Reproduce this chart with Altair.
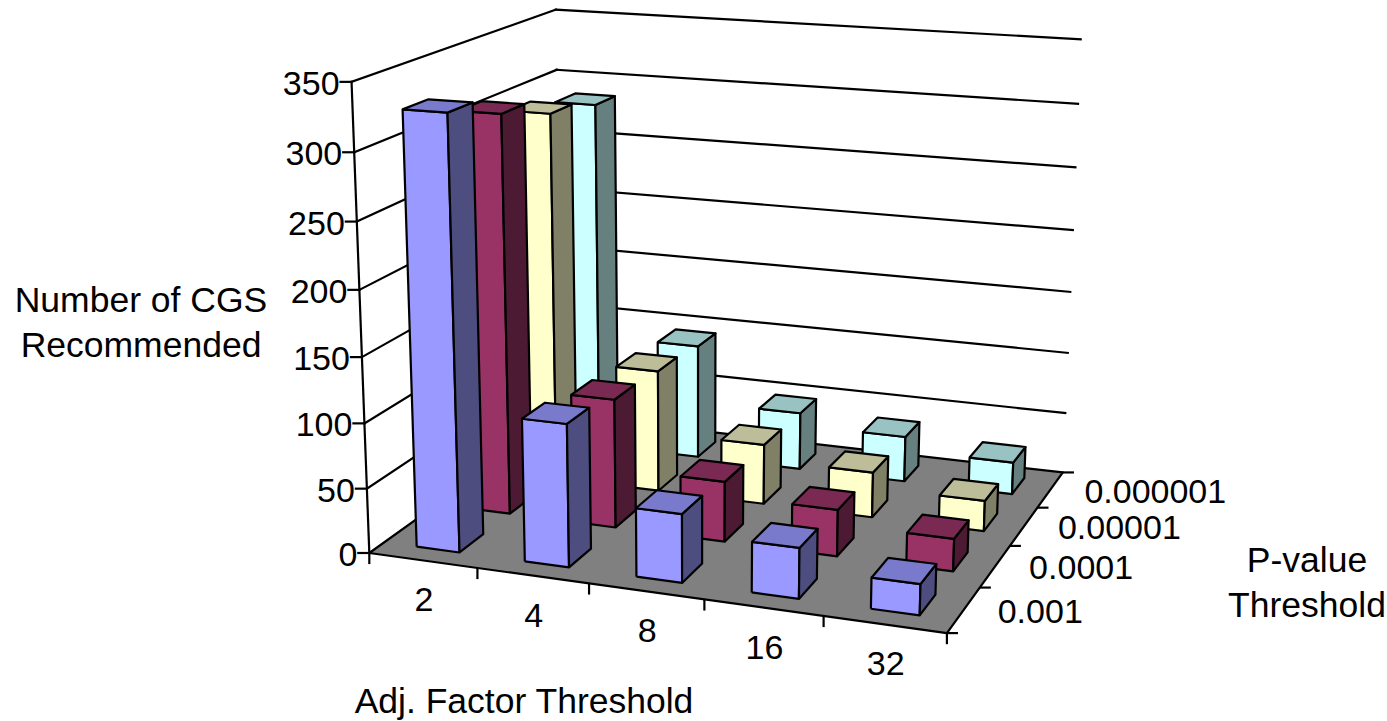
import altair as alt
import numpy as np
import pandas as pd

W, H = 1387, 721

# Chart values: one list per p-value series, ordered along the factor axis
adj_factors = ["2", "4", "8", "16", "32"]
p_values = ["0.001", "0.0001", "0.00001", "0.000001"]
series_0001 = [328, 109, 52, 38, 23]
series_00001 = [311, 101, 47, 36, 25]
series_000001 = [295, 98, 48, 36, 24]
series_0000001 = [286, 94, 47, 37, 26]
value_ticks = [0, 50, 100, 150, 200, 250, 300, 350]

series = [series_0001, series_00001, series_000001, series_0000001]
front_colors = ["#9999FF", "#993366", "#FFFFCC", "#CCFFFF"]
side_colors = ["#4D4D80", "#4D1A33", "#808066", "#668080"]
top_colors = ["#7A7ACC", "#7A2952", "#BDBD99", "#99C2C2"]

# Camera: a projective map fitted from (factor, depth, value) to the page
camera_fit = [
    ((0, 0, 0), (370, 552)), ((1, 0, 0), (476, 569)), ((2, 0, 0), (590, 585)),
    ((3, 0, 0), (704, 600)), ((4, 0, 0), (824, 617)), ((5, 0, 0), (948, 632)),
    ((5, 1, 0), (978, 587)), ((5, 2, 0), (1009, 546)), ((5, 3, 0), (1037, 508)),
    ((5, 4, 0), (1063, 470)),
    ((0, 0, 350), (351.5, 82)), ((0, 0, 300), (354.3, 152)), ((0, 0, 250), (357, 221)),
    ((0, 0, 100), (364.5, 423)), ((0, 0, 50), (367, 488)),
    ((0, 4, 350), (556, 10)), ((0, 4, 300), (556, 70)),
    ((5, 4, 350), (1080, 40)), ((5, 4, 300), (1078, 102)), ((5, 4, 250), (1076, 168)),
    ((5, 4, 200), (1073, 230)), ((5, 4, 150), (1071, 293)), ((5, 4, 100), (1068, 353)),
    ((5, 4, 50), (1066, 414)),
]


def fit_camera(pairs):
    weights = [1.0] * len(pairs)
    cam = None
    for _ in range(6):
        rows = []
        for ((u, v, w), (x, y)), g in zip(pairs, weights):
            w = w / 50
            rows.append([g * c for c in (u, v, w, 1, 0, 0, 0, 0, -x * u, -x * v, -x * w, -x)])
            rows.append([g * c for c in (0, 0, 0, 0, u, v, w, 1, -y * u, -y * v, -y * w, -y)])
        cam = np.linalg.svd(np.array(rows, dtype=float))[2][-1].reshape(3, 4)
        weights = [1.0 / abs(cam[2] @ np.array([u, v, w / 50, 1.0])) for (u, v, w), _ in pairs]
        weights = [g / max(weights) for g in weights]
    return cam


CAMERA = fit_camera(camera_fit)


def project(u, v, w):
    p = CAMERA @ np.array([u, v, w / 50, 1.0])
    return float(p[0] / p[2]), float(p[1] / p[2])


polys = []
lines = []
tick_labels = []
title_labels = []


def add_poly(corners, fill):
    pid = len(polys) and polys[-1]["pid"] + 1
    ring = list(corners) + [corners[0]]
    for k, c in enumerate(ring):
        x, y = project(*c)
        polys.append({"pid": pid, "k": k, "px": x, "py": y, "fill": fill})


def add_line(a, b, offset=(0, 0)):
    lid = len(lines) and lines[-1]["lid"] + 1
    for k, c in enumerate((a, b)):
        x, y = project(*c)
        if k == 1:
            x, y = x + offset[0], y + offset[1]
        lines.append({"lid": lid, "k": k, "px": x, "py": y})


# Floor
add_poly([(0, 0, 0), (5, 0, 0), (5, 4, 0), (0, 4, 0)], "#808080")

# Bars, painted from the back row forward and from left to right
BAR_U, BAR_V = (0.305, 0.705), (0.27, 0.73)
for row in range(3, -1, -1):
    for col in range(5):
        h = series[row][col]
        u0, u1 = col + BAR_U[0], col + BAR_U[1]
        v0, v1 = row + BAR_V[0], row + BAR_V[1]
        add_poly([(u0, v0, 0), (u1, v0, 0), (u1, v0, h), (u0, v0, h)], front_colors[row])
        add_poly([(u1, v0, 0), (u1, v1, 0), (u1, v1, h), (u1, v0, h)], side_colors[row])
        add_poly([(u0, v0, h), (u1, v0, h), (u1, v1, h), (u0, v1, h)], top_colors[row])

# Gridlines on the two walls, and the value axis with its ticks
for t in value_ticks[1:]:
    add_line((0, 0, t), (0, 4, t))
    add_line((0, 4, t), (5, 4, t))
add_line((0, 0, 0), (0, 0, 350))
for t in value_ticks:
    add_line((0, 0, t), (0, 0, t), offset=(-11, 0))
    x, y = project(0, 0, t)
    tick_labels.append({"text": str(t), "px": x - 12, "py": y + 3, "align": "right"})

# Ticks and labels along the two floor edges
for i in range(6):
    add_line((i, 0, 0), (i, 0, 0), offset=(0, 10))
for i, name in enumerate(adj_factors):
    x, y = project(i + 0.5, 0, 0)
    tick_labels.append({"text": name, "px": x + 1, "py": y + 41, "align": "center"})
for j in range(5):
    add_line((5, j, 0), (5, j, 0), offset=(10, 0))
for j, name in enumerate(p_values):
    x, y = project(5, j + 0.5, 0)
    tick_labels.append({"text": name, "px": x + 34, "py": y + 3, "align": "left"})

# Axis titles
titles = [
    ("Number of CGS", 141, 301), ("Recommended", 141, 346),
    ("Adj. Factor Threshold", 524, 702),
    ("P-value", 1307, 561), ("Threshold", 1307, 606),
]
for text, x, y in titles:
    title_labels.append({"text": text, "px": x, "py": y, "align": "center"})

x_scale = alt.Scale(domain=[0, W], range=[0, W], nice=False, zero=False)
y_scale = alt.Scale(domain=[0, H], range=[0, H], nice=False, zero=False)
x_enc = alt.X("px:Q", scale=x_scale, axis=None)
y_enc = alt.Y("py:Q", scale=y_scale, axis=None)

grid_layer = alt.Chart(pd.DataFrame(lines)).mark_line(
    stroke="black", strokeWidth=2.2, strokeCap="square"
).encode(x=x_enc, y=y_enc, detail="lid:N", order="k:Q")

poly_layer = alt.Chart(pd.DataFrame(polys)).mark_line(
    stroke="black", strokeWidth=2.2, strokeJoin="round"
).encode(
    x=x_enc, y=y_enc, detail="pid:N", order="k:Q",
    fill=alt.Fill("fill:N", scale=None),
)


def text_layer(rows, align, size):
    return alt.Chart(pd.DataFrame([r for r in rows if r["align"] == align])).mark_text(
        font="Liberation Sans", fontSize=size, color="black", align=align, baseline="middle"
    ).encode(x=x_enc, y=y_enc, text="text:N")


text_layers = [text_layer(tick_labels, a, 34) for a in ("left", "center", "right")]
text_layers.append(text_layer(title_labels, "center", 35.5))

chart = alt.layer(grid_layer, poly_layer, *text_layers).properties(
    width=W, height=H, padding=0, autosize=alt.AutoSizeParams(type="none")
).configure_view(stroke=None)

chart.save("out.html", embed_options={"renderer": "svg", "actions": False})
